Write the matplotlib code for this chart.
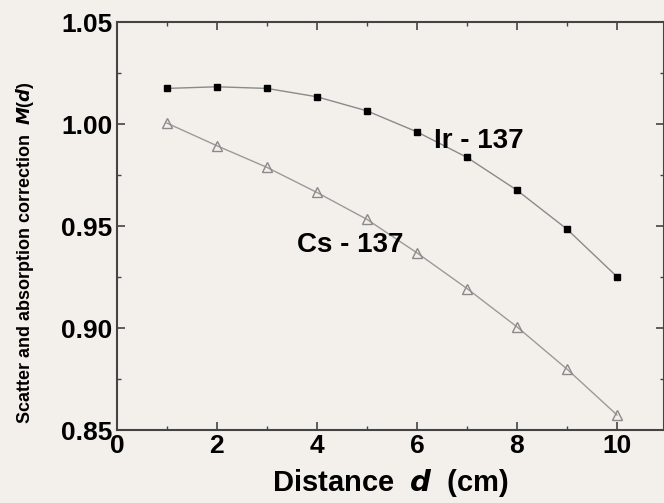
import matplotlib
matplotlib.use('Agg')
import matplotlib.pyplot as plt
from matplotlib.ticker import MultipleLocator

distance = [1, 2, 3, 4, 5, 6, 7, 8, 9, 10]
ir_values = [1.0175, 1.0183, 1.0175, 1.0134, 1.0065, 0.9962, 0.9837, 0.9676, 0.9485, 0.9252]
cs_values = [1.0005, 0.9894, 0.9788, 0.9665, 0.9533, 0.9369, 0.9194, 0.9006, 0.8799, 0.8574]

plt.rcParams['font.family'] = ['Liberation Sans', 'DejaVu Sans']
bg = '#f3f0ec'

fig = plt.figure(figsize=(6.64, 5.03), dpi=100, facecolor=bg)
ax = fig.add_axes([0.176, 0.145, 0.824, 0.811], facecolor=bg)

ax.plot(distance, ir_values, color='#8a8a8a', lw=1.0, marker='s', ms=4.5,
        mfc='black', mec='black', zorder=3)
ax.plot(distance, cs_values, color='#9a9a9a', lw=1.0, marker='^', ms=7,
        mfc='none', mec='#8a8a8a', mew=1.0, zorder=3)

ax.text(7.24, 0.9918, 'Ir - 137', fontsize=20, fontweight='bold', ha='center', va='center')
ax.text(4.66, 0.9407, 'Cs - 137', fontsize=20, fontweight='bold', ha='center', va='center')

ax.set_xlim(0, 10.94)
ax.set_ylim(0.85, 1.05)
ax.xaxis.set_major_locator(MultipleLocator(2))
ax.xaxis.set_minor_locator(MultipleLocator(1))
ax.yaxis.set_major_locator(MultipleLocator(0.05))
ax.yaxis.set_minor_locator(MultipleLocator(0.025))
ax.yaxis.set_major_formatter(plt.FormatStrFormatter('%.2f'))
ax.tick_params(which='both', direction='in', top=True, right=True, color='#444444')
ax.tick_params(which='major', length=6, width=1.2, labelsize=19, pad=3)
ax.tick_params(which='minor', length=3, width=1.0)
for lab in ax.get_xticklabels() + ax.get_yticklabels():
    lab.set_fontweight('bold')
for sp in ax.spines.values():
    sp.set_color('#444444')
    sp.set_linewidth(1.5)

ax.set_xlabel(r'Distance  $\boldsymbol{d}$  (cm)', fontsize=21, fontweight='bold', labelpad=6)
ax.set_ylabel('Scatter and absorption correction  $\\boldsymbol{M}$($\\boldsymbol{d}$)', fontsize=13,
              fontweight='bold')
ax.yaxis.set_label_coords(-0.147, 0.436)

fig.savefig('out.png', dpi=100, facecolor=bg)
